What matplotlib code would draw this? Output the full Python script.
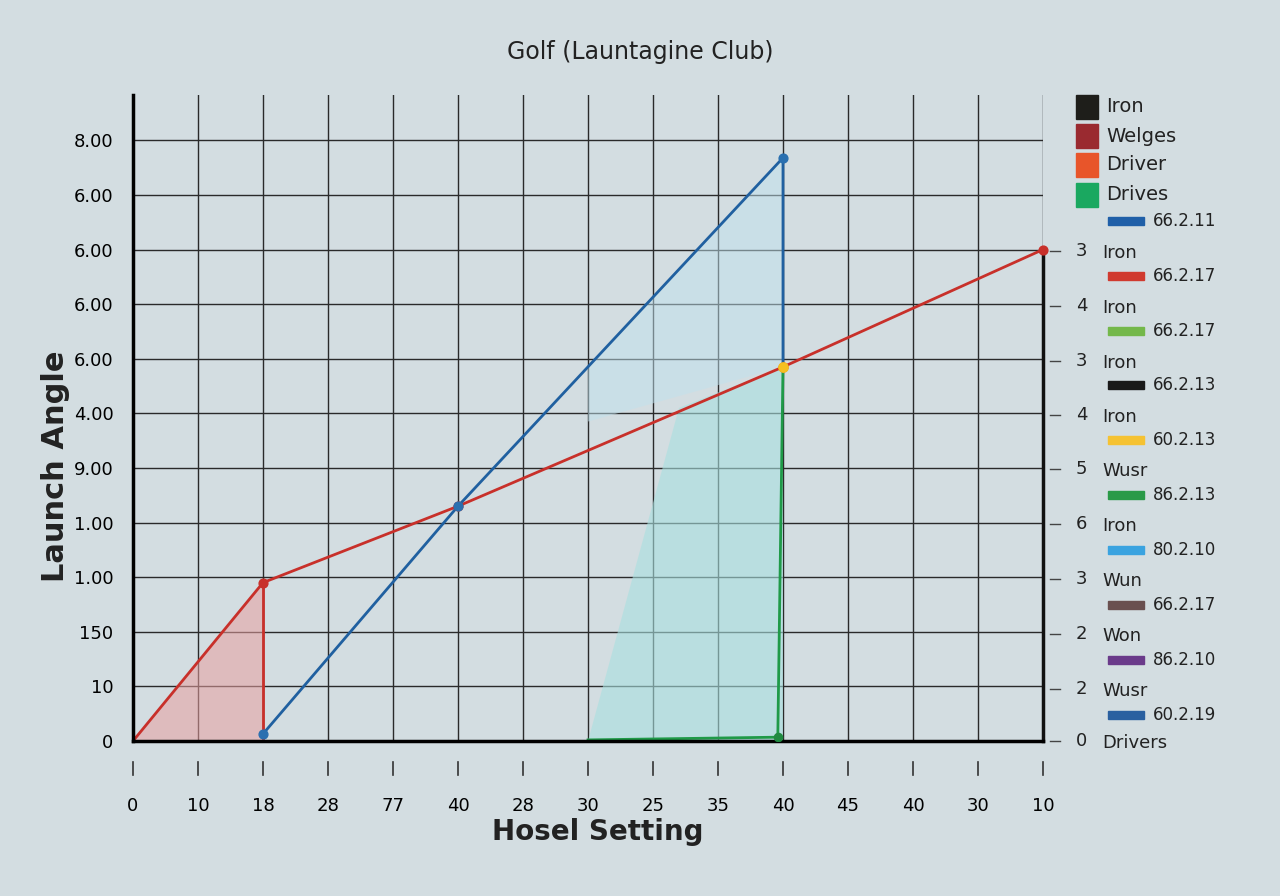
import matplotlib.pyplot as plt
import matplotlib.transforms as mtransforms
from matplotlib.patches import Rectangle

x_labels = ["0", "10", "18", "28", "77", "40", "28", "30", "25", "35", "40", "45", "40", "30", "10"]
y_labels = ["0", "10", "150", "1.00", "1.00", "9.00", "4.00", "6.00", "6.00", "6.00", "6.00", "8.00"]

red_x = [0, 2, 5, 10, 14]
red_y = [0, 2.9, 4.3, 6.85, 9.0]
blue_x = [2, 5, 10, 10]
blue_y = [0.13, 4.3, 10.68, 6.85]
green_x = [7, 9.92, 10]
green_y = [0.02, 0.07, 6.85]

right_nums = ["3", "4", "3", "4", "5", "6", "3", "2", "2", "0"]
right_names = ["Iron", "Iron", "Iron", "Iron", "Wusr", "Iron", "Wun", "Won", "Wusr", "Drivers"]
right_rows = [251, 306, 361, 415, 469, 524, 579, 634, 689, 741]
sw_labels = ["66.2.11", "66.2.17", "66.2.17", "66.2.13", "60.2.13", "86.2.13", "80.2.10", "66.2.17", "86.2.10", "60.2.19"]
sw_colors = ["#1f5fa8", "#d03a2f", "#74b84a", "#1a1a1a", "#f5c232", "#2a9a48", "#3aa3e0", "#6a5050", "#6a3a8a", "#2a60a0"]
sw_rows = [221, 276, 331, 385, 440, 495, 550, 605, 660, 715]
top_names = ["Iron", "Welges", "Driver", "Drives"]
top_colors = ["#1e1e1a", "#9a2a30", "#e8552a", "#1aa860"]
top_rows = [107, 136, 165, 195]

W, H = 1280, 896
bg = "#d3dde1"
fig = plt.figure(figsize=(12.8, 8.96), dpi=100, facecolor=bg)
ax = fig.add_axes([133 / W, 1 - 741 / H, (1043 - 133) / W, (741 - 95) / H])
ax.set_facecolor(bg)
ax.set_xlim(0, 14)
ax.set_ylim(0, 11.83)

ax.set_xticks(range(15))
ax.set_xticklabels(x_labels, fontsize=13)
ax.set_yticks(range(12))
ax.set_yticklabels(y_labels, fontsize=13)
ax.tick_params(axis="x", length=0, pad=40)
ax.tick_params(axis="y", length=0, pad=14)
ax.grid(True, color="#2a2a2a", linewidth=1.0)
ax.set_axisbelow(True)
for s in ["top", "right"]:
    ax.spines[s].set_visible(False)
ax.spines["left"].set_linewidth(2.5)
ax.spines["bottom"].set_linewidth(2.5)

# tick marks below axis
trans = mtransforms.blended_transform_factory(ax.transData, ax.transAxes)
for i in range(15):
    ax.plot([i, i], [-0.033, -0.053], color="#333333", lw=1.2, transform=trans, clip_on=False)

# fills
ax.fill([0, 2, 2], [0, 2.9, 0], color="#e8a0a0", alpha=0.55, lw=0)
ax.fill([7, 8.4, 10, 10], [0, 6.1, 6.85, 0], color="#a8e0e0", alpha=0.6, lw=0)
ax.fill([7, 10, 10, 7], [6.85, 10.68, 6.85, 5.85], color="#c0e2ee", alpha=0.5, lw=0)

ax.plot(red_x, red_y, color="#c8302a", lw=2)
ax.plot([2, 2], [0, 2.9], color="#c8302a", lw=2)
ax.plot(blue_x, blue_y, color="#2060a0", lw=2)
ax.plot(green_x, green_y, color="#1f9a48", lw=2)
ax.plot([14, 14], [0, 9.0], color="#111111", lw=2.5, clip_on=False)

ax.scatter(red_x[1:], red_y[1:], color="#c8302a", s=40, zorder=5, clip_on=False)
ax.scatter([2, 5, 10], [0.13, 4.3, 10.68], color="#2a70b0", s=40, zorder=6)
ax.scatter([10], [6.85], color="#f5c020", s=45, zorder=7)
ax.scatter([9.92], [0.07], color="#1f8a40", s=35, zorder=7)

fig.text(0.5, 1 - 52 / H, "Golf (Launtagine Club)", ha="center", va="center", fontsize=17, color="#222222")
fig.text(598 / W, 1 - 832 / H, "Hosel Setting", ha="center", va="center", fontsize=20, fontweight="bold", color="#222222")
fig.text(55 / W, 1 - 466 / H, "Launch Angle", ha="center", va="center", rotation=90, fontsize=22, fontweight="bold", color="#222222")

# right side labels
for num, name, r in zip(right_nums, right_names, right_rows):
    fig.add_artist(plt.Line2D([1050 / W, 1060 / W], [1 - r / H] * 2, color="#444444", lw=1))
    fig.text(1076 / W, 1 - r / H, num, ha="left", va="center", fontsize=13, color="#222222")
    fig.text(1102 / W, 1 - (r + 2) / H, name, ha="left", va="center", fontsize=13, color="#222222")
for lab, c, r in zip(sw_labels, sw_colors, sw_rows):
    fig.add_artist(Rectangle((1108 / W, 1 - (r + 4) / H), 36 / W, 8 / H, color=c))
    fig.text(1153 / W, 1 - r / H, lab, ha="left", va="center", fontsize=12, color="#222222")
for name, c, r in zip(top_names, top_colors, top_rows):
    fig.add_artist(Rectangle((1076 / W, 1 - (r + 12) / H), 22 / W, 24 / H, color=c))
    fig.text(1106 / W, 1 - r / H, name, ha="left", va="center", fontsize=14, color="#222222")

fig.savefig("out.png", dpi=100, facecolor=bg)
